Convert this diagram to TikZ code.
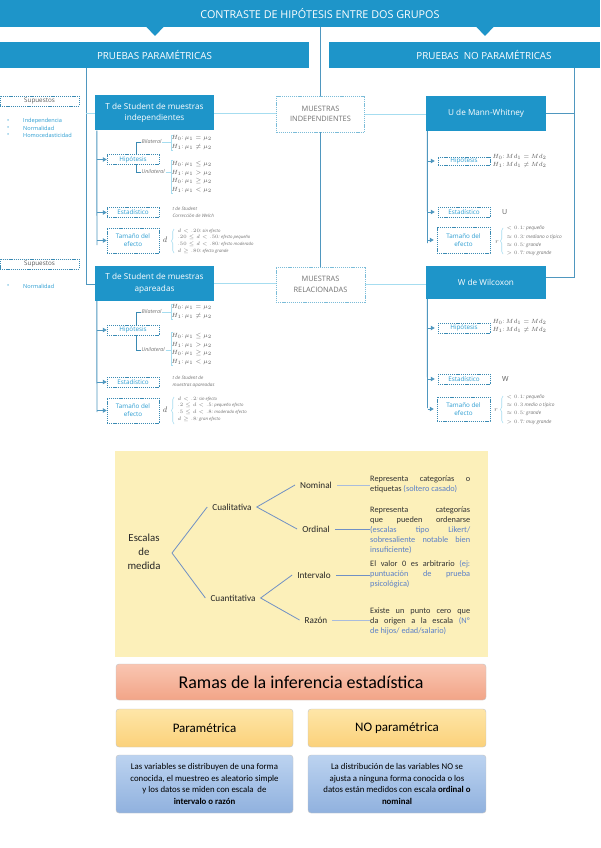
\documentclass[tikz,border=0pt]{standalone}
\usepackage{fontspec}
\setmainfont{Carlito}
\newfontfamily\topf{Open Sans}
\usetikzlibrary{arrows.meta,decorations.pathreplacing,shadings}
\newcommand{\nohy}{\hyphenchar\font=-1\relax\hyphenpenalty=10000\relax\exhyphenpenalty=10000\relax\hbadness=10000\relax}
\definecolor{cblue}{HTML}{1E95C9}
\definecolor{lline}{HTML}{A6DDF0}
\definecolor{vline}{HTML}{4F97BF}
\definecolor{dbord}{HTML}{3A8AB3}
\definecolor{ctext}{HTML}{2A9DD2}
\definecolor{gtext}{HTML}{707070}
\definecolor{ftext}{HTML}{5A5A5A}
\definecolor{ybg}{HTML}{FCF0BA}
\definecolor{tline}{HTML}{7090C4}
\definecolor{dlink}{HTML}{5B80C8}
\definecolor{sal1}{HTML}{F9C6B2}
\definecolor{sal2}{HTML}{F2A487}
\definecolor{or1}{HTML}{FEE6A8}
\definecolor{or2}{HTML}{FBD17A}
\definecolor{bl1}{HTML}{BCD3F0}
\definecolor{bl2}{HTML}{90B1DE}
\definecolor{bbord}{HTML}{C4C4C4}
\tikzset{
  bluebox/.style={fill=cblue,text=white,inner sep=0pt,align=center,font=\topf\fontsize{8.2}{11.5}\selectfont},
  barbox/.style={fill=cblue,text=white,inner sep=0pt,minimum height=26pt,font=\topf\fontsize{9.8}{11}\selectfont},
  dbox/.style={draw=dbord,dash pattern=on 1.2pt off 0.9pt,line width=0.5pt,fill=white,text=ctext,inner sep=0pt,align=center,font=\topf\fontsize{6.3}{8.2}\selectfont,minimum width=52pt,minimum height=10pt},
  sbox/.style={dbox,text=ftext,minimum width=79pt},
  mbox/.style={draw=lline!60!dbord,dash pattern=on 1.2pt off 0.9pt,line width=0.5pt,fill=white,text=gtext,inner sep=0pt,align=center,font=\topf\fontsize{7.4}{10.5}\selectfont,minimum width=88pt,minimum height=36pt},
  hl/.style={draw=lline,line width=0.8pt},
  vl/.style={draw=vline,line width=0.9pt},
  arr/.style={draw=vline,line width=0.9pt,-{Triangle[length=4pt,width=4.5pt]}},
  tl/.style={draw=dbord,line width=0.6pt},
  brk/.style={draw=lline,line width=0.6pt},
  bracev/.style={draw=lline,line width=0.6pt,decorate,decoration={brace,amplitude=2.5pt}},
  lab/.style={font=\topf\fontsize{5.3}{6.5}\selectfont\itshape,text=gtext,inner sep=0.5pt,anchor=west},
  form/.style={font=\fontsize{6.5}{8.6}\selectfont,text=ftext,inner sep=0.5pt,anchor=west,align=left},
  tinytxt/.style={font=\topf\fontsize{4.3}{6.6}\selectfont\itshape,text=gtext,inner sep=0.5pt,anchor=west,align=left},
  bul/.style={font=\topf\fontsize{5.6}{7}\selectfont,text=ctext,inner sep=0pt,anchor=west},
  treel/.style={draw=tline,line width=0.8pt},
  scl/.style={font=\fontsize{9.2}{11}\selectfont,inner xsep=5pt,inner ysep=1pt,text=black!85},
  desc/.style={font=\fontsize{8.3}{10}\selectfont,text width=100pt,align=justify,inner sep=0pt,anchor=west,text=black!80},
  rbox/.style={draw=bbord,line width=0.4pt,rounded corners=3pt,inner sep=0pt,align=center}
}
\begin{document}
\begin{tikzpicture}[x=1pt,y=-1pt]
\useasboundingbox (0,0) rectangle (600,848);
\fill[white] (0,0) rectangle (600,848);

% ---------- top bars
\node[fill=cblue,minimum width=600pt,minimum height=27pt,inner sep=0pt] (tbar) at (300,13.5) {};
\node[text=white,font=\topf\fontsize{10.8}{12}\selectfont,inner sep=0pt] (title) at (320,14) {CONTRASTE DE HIPÓTESIS ENTRE DOS GRUPOS};
\fill[cblue] (146,26.5) -- (164,26.5) -- (155,36) -- cycle;
\fill[cblue] (476,26.5) -- (494,26.5) -- (485,36) -- cycle;
\node[barbox,minimum width=309pt] (pp) at (154.5,55) {PRUEBAS PARAMÉTRICAS};
\node[barbox,minimum width=271pt] (pnpbar) at (464.5,55) {};
\node[text=white,font=\topf\fontsize{9.8}{11}\selectfont,inner sep=0pt] (pnp) at (484,55) {PRUEBAS\ \ NO PARAMÉTRICAS};

% ---------- main boxes
\node[bluebox,minimum width=119pt,minimum height=35pt] (tsi) at (154.5,113) {T de Student de muestras\\independientes};
\node[bluebox,minimum width=119pt,minimum height=35pt] (tsa) at (154.5,283.5) {T de Student de muestras\\apareadas};
\node[bluebox,minimum width=120pt,minimum height=35pt] (ub) at (486,113.5) {U de Mann-Whitney};
\node[bluebox,minimum width=120pt,minimum height=33pt] (wb) at (486,282.5) {W de Wilcoxon};
\node[mbox] (mi) at (320.5,114) {MUESTRAS\\INDEPENDIENTES};
\node[mbox,minimum height=35pt,minimum width=89pt] (mr) at (320.5,284.5) {MUESTRAS\\RELACIONADAS};

% ---------- trunk lines
\coordinate (lvb) at (86,284);
\draw[vl] (pp.south -| lvb) -- (lvb) -- (lvb -| tsa.west);
\draw[hl] (tsi.west -| lvb) -- (tsi.west);
\coordinate (rvb) at (574,277);
\draw[vl] (pnpbar.south -| rvb) -- (rvb) -- (rvb -| wb.east);
\draw[vl] (ub.east) -- (ub.east -| rvb);
\draw[hl] (tsi.east) -- (tsi.east -| mi.west);
\draw[hl] (mi.east) -- (mi.east -| ub.west);
\draw[hl] (tsa.east) -- (tsa.east -| mr.west);
\draw[hl] (mr.east) -- (mr.east -| wb.west);
\draw[vl] (tbar.south -| mi.north) -- (mi.north);
\draw[vl] (mi.south) -- (mr.north);

% ---------- Supuestos column
\node[sbox] (s1) at (39.5,101) {Supuestos};
\node[bul] (b1) at (7,121) {\textbullet};
\node[bul] (b2) at (7,128) {\textbullet};
\node[bul] (b3) at (7,135) {\textbullet};
\node[bul] (i1) at (23,121) {Independencia};
\node[bul] (i2) at (23,128) {Normalidad};
\node[bul] (i3) at (23,135) {Homocedasticidad};
\node[sbox] (s2) at (39.5,264) {Supuestos};
\node[bul] (b4) at (7,286) {\textbullet};
\node[bul] (i4) at (23,286) {Normalidad};

% ---------- T independientes branch
\coordinate (t1end) at (97,245);
\draw[vl] ([xshift=2pt]tsi.south west) -- (t1end);
\node[lab] (bil1) at (141,142) {Bilateral};
\node[lab] (uni1) at (141,172) {Unilateral};
\draw[tl] (bil1.west) -- ++(-5,0) |- (uni1.west);
\node[dbox] (h1) at (133,159.5) {Hipótesis};
\node[dbox] (e1) at (133,212.5) {Estadístico};
\node[dbox,minimum height=25pt] (ta1) at (133,240.5) {Tamaño del\\efecto};
\draw[arr] (h1.west -| t1end) -- (h1.west);
\draw[arr] (e1.west -| t1end) -- (e1.west);
\draw[arr] (ta1.west -| t1end) -- (ta1.west);
\node[form] (f1b) at (171,142.5) {$H_0\colon \mu_1 = \mu_2$\\$H_1\colon \mu_1 \neq \mu_2$};
\node[form] (f1u) at (171,177) {$H_0\colon \mu_1 \leq \mu_2$\\$H_1\colon \mu_1 > \mu_2$\\$H_0\colon \mu_1 \geq \mu_2$\\$H_1\colon \mu_1 < \mu_2$};
\draw[brk] ([xshift=2pt]f1b.north west) -- (f1b.north west) -- (f1b.south west) -- ([xshift=2pt]f1b.south west);
\draw[brk] ([xshift=2pt]f1u.north west) -- (f1u.north west) -- (f1u.south west) -- ([xshift=2pt]f1u.south west);
\draw[brk] (bil1.east) -- (bil1.east -| f1b.west);
\draw[brk] (uni1.east) -- (uni1.east -| f1u.west);
\node[tinytxt,font=\topf\fontsize{4.6}{7}\selectfont\itshape] (et1) at (172,212.5) {t de Student\\Corrección de Welch};
\node[font=\fontsize{8}{9}\selectfont,text=ftext,inner sep=0pt] (d1) at (165,240) {$d$};
\coordinate (br1a) at (174,253);
\coordinate (br1b) at (174,229);
\draw[bracev] (br1a) -- (br1b);
\node[tinytxt] (tt1) at (177,241) {$d<.20$: sin efecto\\$.20\le d<.50$: efecto pequeño\\$.50\le d<.80$: efecto moderado\\$d\ge .80$: efecto grande};

% ---------- T apareadas branch
\coordinate (t2end) at (97,412);
\draw[vl] ([xshift=2pt]tsa.south west) -- (t2end);
\node[lab] (bil2) at (141,312) {Bilateral};
\node[lab] (uni2) at (141,350) {Unilateral};
\draw[tl] (bil2.west) -- ++(-5,0) |- (uni2.west);
\node[dbox] (h2) at (133,330) {Hipótesis};
\node[dbox] (e2) at (133,382) {Estadístico};
\node[dbox,minimum height=25pt] (ta2) at (133,410.5) {Tamaño del\\efecto};
\draw[arr] (h2.west -| t2end) -- (h2.west);
\draw[arr] (e2.west -| t2end) -- (e2.west);
\draw[arr] (ta2.west -| t2end) -- (ta2.west);
\node[form] (f2b) at (171,311.5) {$H_0\colon \mu_1 = \mu_2$\\$H_1\colon \mu_1 \neq \mu_2$};
\node[form] (f2u) at (171,349) {$H_0\colon \mu_1 \leq \mu_2$\\$H_1\colon \mu_1 > \mu_2$\\$H_0\colon \mu_1 \geq \mu_2$\\$H_1\colon \mu_1 < \mu_2$};
\draw[brk] ([xshift=2pt]f2b.north west) -- (f2b.north west) -- (f2b.south west) -- ([xshift=2pt]f2b.south west);
\draw[brk] ([xshift=2pt]f2u.north west) -- (f2u.north west) -- (f2u.south west) -- ([xshift=2pt]f2u.south west);
\draw[brk] (bil2.east) -- (bil2.east -| f2b.west);
\draw[brk] (uni2.east) -- (uni2.east -| f2u.west);
\node[tinytxt,font=\topf\fontsize{4.6}{7}\selectfont\itshape] (et2) at (172,382) {t de Student de\\muestras apareadas};
\node[font=\fontsize{8}{9}\selectfont,text=ftext,inner sep=0pt] (d2) at (165,410) {$d$};
\coordinate (br2a) at (174,424);
\coordinate (br2b) at (174,397);
\draw[bracev] (br2a) -- (br2b);
\node[tinytxt] (tt2) at (177,409) {$d<.2$: sin efecto\\$.2\le d<.5$: pequeño efecto\\$.5\le d<.8$: moderado efecto\\$d\ge .8$: gran efecto};

% ---------- U de Mann-Whitney branch
\coordinate (u1end) at (427.5,243);
\draw[vl] ([xshift=1.5pt]ub.south west) -- (u1end);
\node[dbox,minimum height=8.5pt] (uh) at (464,161) {Hipótesis};
\node[dbox] (ue) at (464,212) {Estadístico};
\node[dbox,minimum width=53pt,minimum height=26pt] (uta) at (463.5,240) {Tamaño del\\efecto};
\draw[arr,shorten >=3pt] (uh.west -| u1end) -- (uh.west);
\draw[arr,shorten >=3pt] (ue.west -| u1end) -- (ue.west);
\draw[arr,shorten >=3pt] (uta.west -| u1end) -- (uta.west);
\node[form,font=\fontsize{6.2}{8.6}\selectfont] (uf) at (492,161) {$H_0\colon Md_1 = Md_2$\\$H_1\colon Md_1 \neq Md_2$};
\node[font=\topf\fontsize{7}{8}\selectfont,text=ftext,inner sep=0pt,anchor=west] (us) at (502,212) {U};
\node[font=\fontsize{6}{7}\selectfont,text=ftext,inner sep=0pt] (ur) at (497,242) {$r$};
\coordinate (br3a) at (503,254);
\coordinate (br3b) at (503,228);
\draw[bracev] (br3a) -- (br3b);
\node[tinytxt,font=\topf\fontsize{4.8}{8.3}\selectfont\itshape] (ut) at (506,241) {$<0.1$: pequeño\\$\approx 0.3$: mediano o típico\\$\approx 0.5$: grande\\$>0.7$: muy grande};

% ---------- W de Wilcoxon branch
\coordinate (w1end) at (427.5,408);
\draw[vl] ([xshift=1.5pt]wb.south west) -- (w1end);
\node[dbox] (wh) at (464,328) {Hipótesis};
\node[dbox] (we) at (464,379) {Estadístico};
\node[dbox,minimum width=53pt,minimum height=24pt] (wta) at (463.5,409) {Tamaño del\\efecto};
\draw[arr,shorten >=3pt] (wh.west -| w1end) -- (wh.west);
\draw[arr,shorten >=3pt] (we.west -| w1end) -- (we.west);
\draw[arr,shorten >=3pt] (wta.west -| w1end) -- (wta.west);
\node[form,font=\fontsize{6.2}{8.6}\selectfont] (wf) at (492,326) {$H_0\colon Md_1 = Md_2$\\$H_1\colon Md_1 \neq Md_2$};
\node[font=\topf\fontsize{7}{8}\selectfont,text=ftext,inner sep=0pt,anchor=west] (ws) at (502,379) {W};
\node[font=\fontsize{6}{7}\selectfont,text=ftext,inner sep=0pt] (wr) at (496,410) {$r$};
\coordinate (br4a) at (503,423);
\coordinate (br4b) at (503,396);
\draw[bracev] (br4a) -- (br4b);
\node[tinytxt,font=\topf\fontsize{4.8}{8.3}\selectfont\itshape] (wt) at (506,409.5) {$<0.1$: pequeño\\$\approx 0.3$ medio o típico\\$\approx 0.5$: grande\\$>0.7$: muy grande};

% ---------- Escalas de medida
\node[fill=ybg,minimum width=373pt,minimum height=206pt,inner sep=0pt] (ybox) at (301.5,554) {};
\node[font=\fontsize{10.8}{14}\selectfont,align=center,inner sep=0pt,text=black!85] (esc) at (144,552) {Escalas\\de\\medida};
\coordinate (root) at (172,553);
\node[scl] (cual) at (232,507) {Cualitativa};
\node[scl] (cuan) at (233,598) {Cuantitativa};
\node[scl] (nom) at (316,485) {Nominal};
\node[scl] (ord) at (316,529) {Ordinal};
\node[scl] (int) at (314,575) {Intervalo};
\node[scl] (raz) at (316,620) {Razón};
\draw[treel] (cual.west) -- (root) -- (cuan.west);
\draw[treel] (nom.west) -- (cual.east) -- (ord.west);
\draw[treel] (int.west) -- (cuan.east) -- (raz.west);
\node[desc] (dnom) at (370,484) {\nohy Representa categorías o\linebreak etiquetas \textcolor{dlink}{(soltero casado)}};
\node[desc] (dord) at (370,530) {\nohy Representa categorías\linebreak que pueden ordenarse\linebreak \textcolor{dlink}{(escalas tipo Likert/\linebreak sobresaliente notable bien\linebreak insuficiente)}};
\node[desc] (dint) at (370,574) {\nohy El valor 0 es arbitrario \textcolor{dlink}{(ej:\linebreak puntuación de prueba\linebreak psicológica)}};
\node[desc] (draz) at (370,621) {\nohy Existe un punto cero que\linebreak da origen a la escala \textcolor{dlink}{(Nº\linebreak de hijos/ edad/salario)}};
\draw[draw=tline!60,line width=0.8pt] (nom.east) -- (nom.east -| dnom.west);
\draw[treel] (ord.east) -- (ord.east -| dord.west);
\draw[treel] (int.east) -- (int.east -| dint.west);
\draw[draw=tline!60,line width=0.8pt] (raz.east) -- (raz.east -| draz.west);

% ---------- Ramas de la inferencia
\node[rbox,top color=sal1,bottom color=sal2,minimum width=370pt,minimum height=36pt,font=\fontsize{18}{20}\selectfont] (ramas) at (301,682) {Ramas de la inferencia estadística};
\node[rbox,top color=or1,bottom color=or2,minimum width=177pt,minimum height=38pt,font=\fontsize{13}{15}\selectfont] (par) at (204.5,728) {Paramétrica};
\node[rbox,top color=or1,bottom color=or2,minimum width=178pt,minimum height=38pt,font=\fontsize{13}{15}\selectfont] (npar) at (397,728) {NO paramétrica};
\node[rbox,top color=bl1,bottom color=bl2,minimum width=177pt,minimum height=58pt,font=\fontsize{8.8}{11.4}\selectfont] (bpar) at (204.5,784) {Las variables se distribuyen de una forma\\conocida, el muestreo es aleatorio simple\\y los datos se miden con escala\ \ de\\\textbf{intervalo o razón}};
\node[rbox,top color=bl1,bottom color=bl2,minimum width=178pt,minimum height=58pt,font=\fontsize{8.8}{11.4}\selectfont] (bnpar) at (397,784) {La distribución de las variables NO se\\ajusta a ninguna forma conocida o los\\datos están medidos con escala \textbf{ordinal o}\\\textbf{nominal}};
\end{tikzpicture}
\end{document}
